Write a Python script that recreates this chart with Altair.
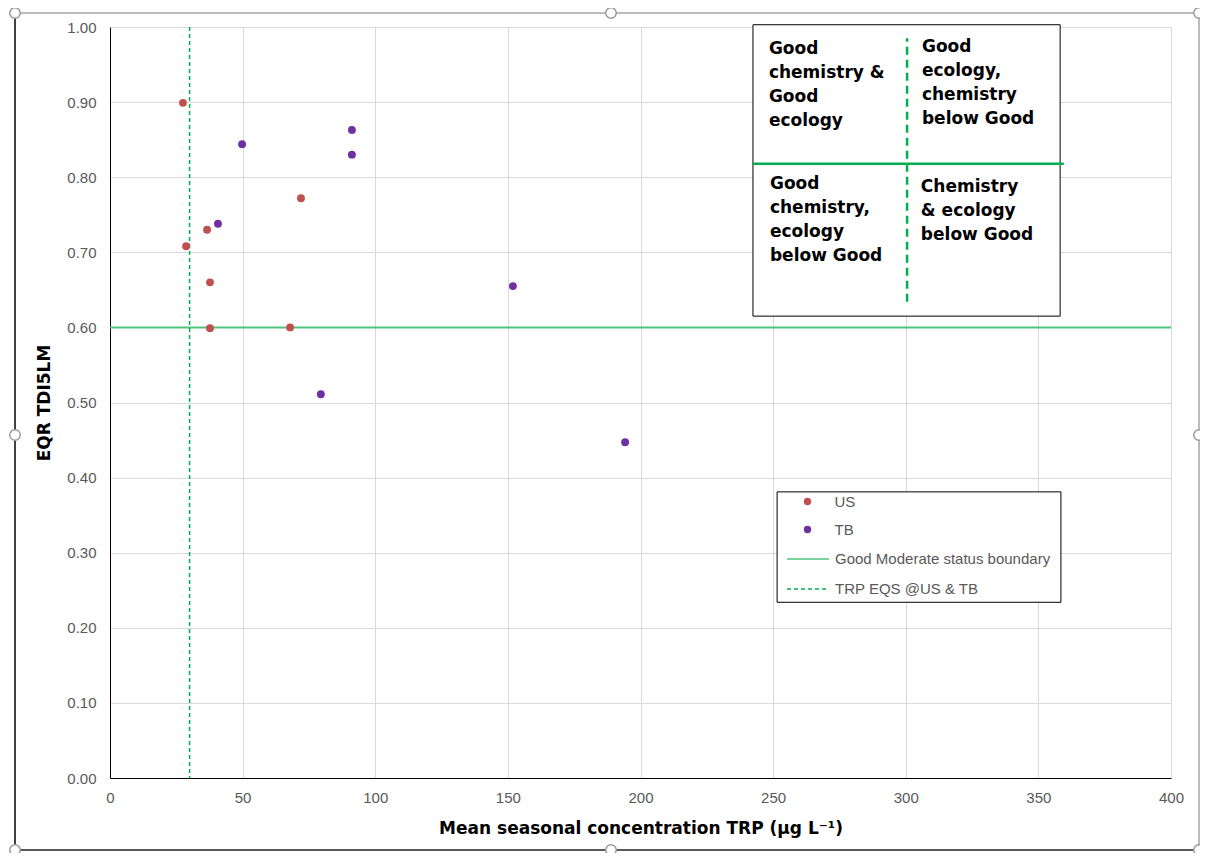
import altair as alt
import pandas as pd

# ---------------- data ----------------
US_TRP = [27.5, 28.7, 36.6, 37.7, 37.7, 72.0, 67.9]
US_EQR = [0.899, 0.708, 0.730, 0.660, 0.599, 0.772, 0.600]
TB_TRP = [49.8, 40.7, 91.2, 91.2, 151.9, 79.5, 194.2]
TB_EQR = [0.844, 0.738, 0.863, 0.830, 0.655, 0.511, 0.447]
SERIES = ["US", "TB"]
SERIES_COLORS = ["#c0504d", "#7030a0"]

BOUNDARY_EQR = 0.60
EQS_TRP = 30
LINE_NAMES = ["Good Moderate status boundary", "TRP EQS @US & TB"]
LINE_COLORS = ["#4fc47f", "#00b050"]
LINE_DASHES = [[1, 0], [4, 3]]

X_TICKS = [0, 50, 100, 150, 200, 250, 300, 350, 400]
Y_TICKS = [0.0, 0.1, 0.2, 0.3, 0.4, 0.5, 0.6, 0.7, 0.8, 0.9, 1.0]

# inset quadrant diagram (data units)
INSET_X = [242.4, 358.2]
INSET_Y = [0.615, 1.003]
INSET_HLINE_X = [242.4, 359.6]
INSET_HLINE_Y = 0.818
INSET_VLINE_X = 300.5
INSET_VLINE_Y = [0.634, 0.985]
QUAD_X = [248.4, 306.1, 248.8, 305.7]
QUAD_Y = [0.982, 0.984, 0.801, 0.797]
QUAD_TEXT = [
    "Good\nchemistry &\nGood\necology",
    "Good\necology,\nchemistry\n\u00a0below Good",
    "Good\nchemistry,\necology\nbelow Good",
    "Chemistry\n& ecology\nbelow Good",
]
LEGEND_BOX_X = [251.5, 358.5]
LEGEND_BOX_Y = [0.234, 0.381]

X_TITLE = "Mean seasonal concentration TRP (µg L⁻¹)"
Y_TITLE = "EQR TDI5LM"

# ---------------- tables ----------------
points = pd.DataFrame({
    "TRP": US_TRP + TB_TRP,
    "EQR": US_EQR + TB_EQR,
    "Site": ["US"] * len(US_TRP) + ["TB"] * len(TB_TRP),
})
boxes = pd.DataFrame({
    "TRP": [INSET_X[0], LEGEND_BOX_X[0]],
    "TRP2": [INSET_X[1], LEGEND_BOX_X[1]],
    "EQR": [INSET_Y[0], LEGEND_BOX_Y[0]],
    "EQR2": [INSET_Y[1], LEGEND_BOX_Y[1]],
})
inset_h = pd.DataFrame({"TRP": [INSET_HLINE_X[0]], "TRP2": [INSET_HLINE_X[1]],
                        "EQR": [INSET_HLINE_Y]})
inset_v = pd.DataFrame({"TRP": [INSET_VLINE_X], "EQR": [INSET_VLINE_Y[0]],
                        "EQR2": [INSET_VLINE_Y[1]]})
quads = pd.DataFrame({"TRP": QUAD_X, "EQR": QUAD_Y, "label": QUAD_TEXT})
hrule_df = pd.DataFrame({"EQR": [BOUNDARY_EQR], "name": [LINE_NAMES[0]]})
vrule_df = pd.DataFrame({"TRP": [EQS_TRP], "name": [LINE_NAMES[1]]})

# ---------------- scales / axes ----------------
x_scale = alt.Scale(domain=[0, 400], nice=False, zero=False)
y_scale = alt.Scale(domain=[0, 1], nice=False, zero=False)
x_axis = alt.Axis(values=X_TICKS, format="d", title=X_TITLE, ticks=False, tickSize=0,
                  labelPadding=12, labelFlush=False, titleY=50, titleBaseline="middle",
                  grid=True)
y_axis = alt.Axis(values=Y_TICKS, format=".2f", title=Y_TITLE, ticks=False, tickSize=0,
                  labelPadding=14, labelFlush=False, titleX=-66, titleY=375.5,
                  titleBaseline="middle", titleAngle=270, grid=True)


def X(field="TRP"):
    return alt.X(f"{field}:Q", scale=x_scale, axis=x_axis)


def Y(field="EQR"):
    return alt.Y(f"{field}:Q", scale=y_scale, axis=y_axis)


LABEL_FONT = "Liberation Sans"
BOLD_FONT = "DejaVu Sans"

box_layer = alt.Chart(boxes).mark_rect(fill="white", stroke="black", strokeWidth=1).encode(
    x=X(), x2="TRP2:Q", y=Y(), y2="EQR2:Q")

inset_h_layer = alt.Chart(inset_h).mark_rule(color="#00b050", strokeWidth=2.5).encode(
    x=X(), x2="TRP2:Q", y=Y())
inset_v_layer = alt.Chart(inset_v).mark_rule(color="#00b050", strokeWidth=2.5,
                                             strokeDash=[8, 5]).encode(
    x=X(), y=Y(), y2="EQR2:Q")

quad_layer = alt.Chart(quads).mark_text(
    align="left", baseline="top", font=BOLD_FONT, fontWeight="bold", fontSize=17,
    lineHeight=24, lineBreak="\n", color="black").encode(x=X(), y=Y(), text="label:N")

line_legend = alt.Legend(
    title=None, orient="none", legendX=676, legendY=510, symbolType="stroke",
    symbolSize=1764, symbolStrokeWidth=1.5, labelOffset=5, labelFontSize=15,
    labelFont=LABEL_FONT, labelColor="#595959", labelLimit=0, rowPadding=-6, padding=0)
stroke_enc = alt.Stroke("name:N", scale=alt.Scale(domain=LINE_NAMES, range=LINE_COLORS),
                        legend=line_legend)
dash_enc = alt.StrokeDash("name:N", scale=alt.Scale(domain=LINE_NAMES, range=LINE_DASHES),
                          legend=line_legend)

hrule = alt.Chart(hrule_df).mark_rule(strokeWidth=2).encode(
    y=Y(), stroke=stroke_enc, strokeDash=dash_enc)
vrule = alt.Chart(vrule_df).mark_rule(strokeWidth=1.5).encode(
    x=X(), stroke=stroke_enc, strokeDash=dash_enc)

point_layer = alt.Chart(points).mark_circle(size=62, opacity=1).encode(
    x=X(), y=Y(),
    color=alt.Color("Site:N", scale=alt.Scale(domain=SERIES, range=SERIES_COLORS),
                    legend=alt.Legend(title=None, orient="none", legendX=690, legendY=467,
                                      symbolType="circle", symbolSize=55, labelOffset=19.5,
                                      labelFontSize=15, labelFont=LABEL_FONT, labelLimit=0,
                                      labelColor="#595959", rowPadding=12, padding=0)))

# ---------------- outer chart frame (decoration of the screenshot) ----------------
dummy = pd.DataFrame({"d": [0]})
FL, FT, FR, FB = -95, -14, 1089, 823
frame_layers = [
    alt.Chart(dummy).mark_rule(color="#a6a6a6", strokeWidth=1.5).encode(
        x=alt.value(FL), x2=alt.value(FR), y=alt.value(FT), y2=alt.value(FT)),
    alt.Chart(dummy).mark_rule(color="#a6a6a6", strokeWidth=1.5).encode(
        x=alt.value(FR), x2=alt.value(FR), y=alt.value(FT), y2=alt.value(FB)),
    alt.Chart(dummy).mark_rule(color="#404040", strokeWidth=2).encode(
        x=alt.value(FL), x2=alt.value(FL), y=alt.value(FT), y2=alt.value(FB)),
    alt.Chart(dummy).mark_rule(color="#595959", strokeWidth=2).encode(
        x=alt.value(FL), x2=alt.value(FR), y=alt.value(FB), y2=alt.value(FB)),
]
for hx, hy in [(FL, FT), (501, FT), (FR, FT), (FL, 408), (FR, 408),
               (FL, FB), (501, FB), (FR, FB)]:
    frame_layers.append(
        alt.Chart(dummy).mark_point(shape="circle", filled=True, fill="white",
                                    stroke="#9a9a9a", strokeWidth=1.5, size=110,
                                    opacity=1).encode(x=alt.value(hx), y=alt.value(hy)))

chart = alt.layer(
    box_layer, inset_h_layer, inset_v_layer, quad_layer, hrule, vrule, point_layer,
    *frame_layers
).properties(
    width=1061, height=751,
    autosize=alt.AutoSizeParams(type="none"),
    padding={"left": 102, "top": 19, "right": 29, "bottom": 75},
).configure_view(stroke=None).configure_axis(
    labelFont=LABEL_FONT, labelFontSize=15, labelColor="#595959",
    titleFont=BOLD_FONT, titleFontSize=17, titleFontWeight="bold", titleColor="black",
    gridColor="#d9d9d9", gridWidth=1, domainColor="black", domainWidth=1,
)

chart.save("out.html", embed_options={"renderer": "svg", "actions": False})
